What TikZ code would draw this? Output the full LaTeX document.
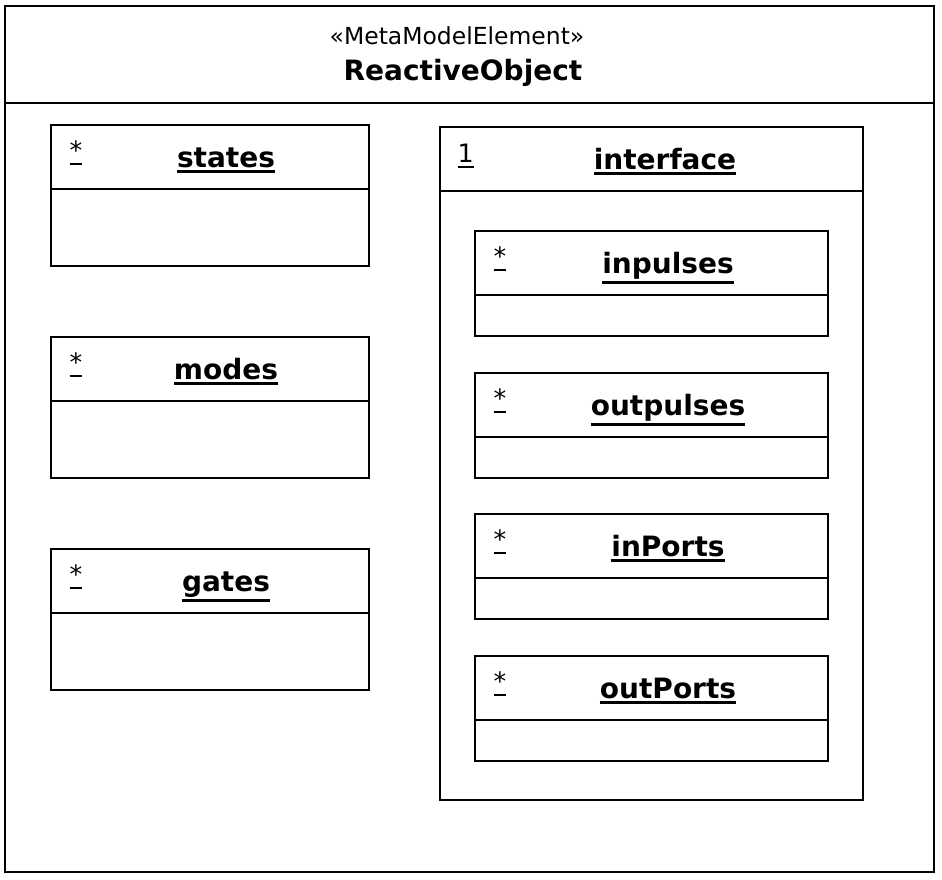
\documentclass[tikz,border=0pt]{standalone}
\usepackage{fontspec}
\setmainfont{DejaVu Sans}
\usetikzlibrary{positioning}
\newcommand{\undl}[3]{\leavevmode\vtop{\hbox{#3}\kern#1\hrule height #2}}

\begin{document}
\begin{tikzpicture}[x=0.75pt, y=-0.75pt,
		boxpart/.style={draw, line width=1.7pt, anchor=north west, inner sep=0pt, outer sep=0pt},
		boxhead/.style={boxpart, minimum height=48pt},
		lbox/.style={minimum width=238.5pt},
		rbox/.style={minimum width=264.75pt},
		lbody/.style={boxpart, lbox, minimum height=57.75pt},
		rbody/.style={boxpart, rbox, minimum height=30.75pt},
		classname/.style={anchor=base, font=\fontsize{21}{24}\selectfont\bfseries},
		mult/.style={anchor=base west, font=\fontsize{19}{22}\selectfont}]
	\useasboundingbox (0,0) rectangle (942,879);
	
	\node[boxhead, minimum width=696.75pt, minimum height=72.75pt] (objhead) at (5,6) {};
	\node[boxpart, minimum width=696.75pt, minimum height=576.75pt] (objbody) at (5,103) {};
	\node[anchor=base, font=\fontsize{17.6}{20}\selectfont] (stereo) at (457,44) {«MetaModelElement»};
	\node[classname] (objname) at (463,80) {ReactiveObject};
	
	\node[boxhead, lbox] (stateshead) at (51,125) {};
	\node[lbody] (statesbody) at (51,189) {};
	\node[mult] (statesmult) at (65,159) {\undl{3pt}{1.3pt}{*}};
	\node[classname] (statesname) at (226,167) {\undl{1.6pt}{2.4pt}{states}};
	
	\node[boxhead, lbox] (modeshead) at (51,337) {};
	\node[lbody] (modesbody) at (51,401) {};
	\node[mult] (modesmult) at (65,371) {\undl{3pt}{1.3pt}{*}};
	\node[classname] (modesname) at (226,379) {\undl{1.6pt}{2.4pt}{modes}};
	
	\node[boxhead, lbox] (gateshead) at (51,549) {};
	\node[lbody] (gatesbody) at (51,613) {};
	\node[mult] (gatesmult) at (65,583) {\undl{3pt}{1.3pt}{*}};
	\node[classname] (gatesname) at (226,591) {\undl{1.6pt}{2.4pt}{gates}};
	
	\node[boxhead, minimum width=317.25pt] (ifhead) at (440,127) {};
	\node[boxpart, minimum width=317.25pt, minimum height=456.75pt] (ifbody) at (440,191) {};
	\node[mult] (ifmult) at (453,162) {\undl{3pt}{1.3pt}{1}};
	\node[classname] (ifname) at (665,169) {\undl{1.6pt}{2.4pt}{interface}};
	
	\node[boxhead, rbox] (inpulseshead) at (475,231) {};
	\node[rbody] (inpulsesbody) at (475,295) {};
	\node[mult] (inpulsesmult) at (489,265) {\undl{3pt}{1.3pt}{*}};
	\node[classname] (inpulsesname) at (668,273) {\undl{1.6pt}{2.4pt}{inpulses}};
	
	\node[boxhead, rbox] (outpulseshead) at (475,373) {};
	\node[rbody] (outpulsesbody) at (475,437) {};
	\node[mult] (outpulsesmult) at (489,407) {\undl{3pt}{1.3pt}{*}};
	\node[classname] (outpulsesname) at (668,415) {\undl{1.6pt}{2.4pt}{outpulses}};
	
	\node[boxhead, rbox] (inportshead) at (475,514) {};
	\node[rbody] (inportsbody) at (475,578) {};
	\node[mult] (inportsmult) at (489,548) {\undl{3pt}{1.3pt}{*}};
	\node[classname] (inportsname) at (668,556) {\undl{1.6pt}{2.4pt}{inPorts}};
	
	\node[boxhead, rbox] (outportshead) at (475,656) {};
	\node[rbody] (outportsbody) at (475,720) {};
	\node[mult] (outportsmult) at (489,690) {\undl{3pt}{1.3pt}{*}};
	\node[classname] (outportsname) at (668,698) {\undl{1.6pt}{2.4pt}{outPorts}};
\end{tikzpicture}
\end{document}
